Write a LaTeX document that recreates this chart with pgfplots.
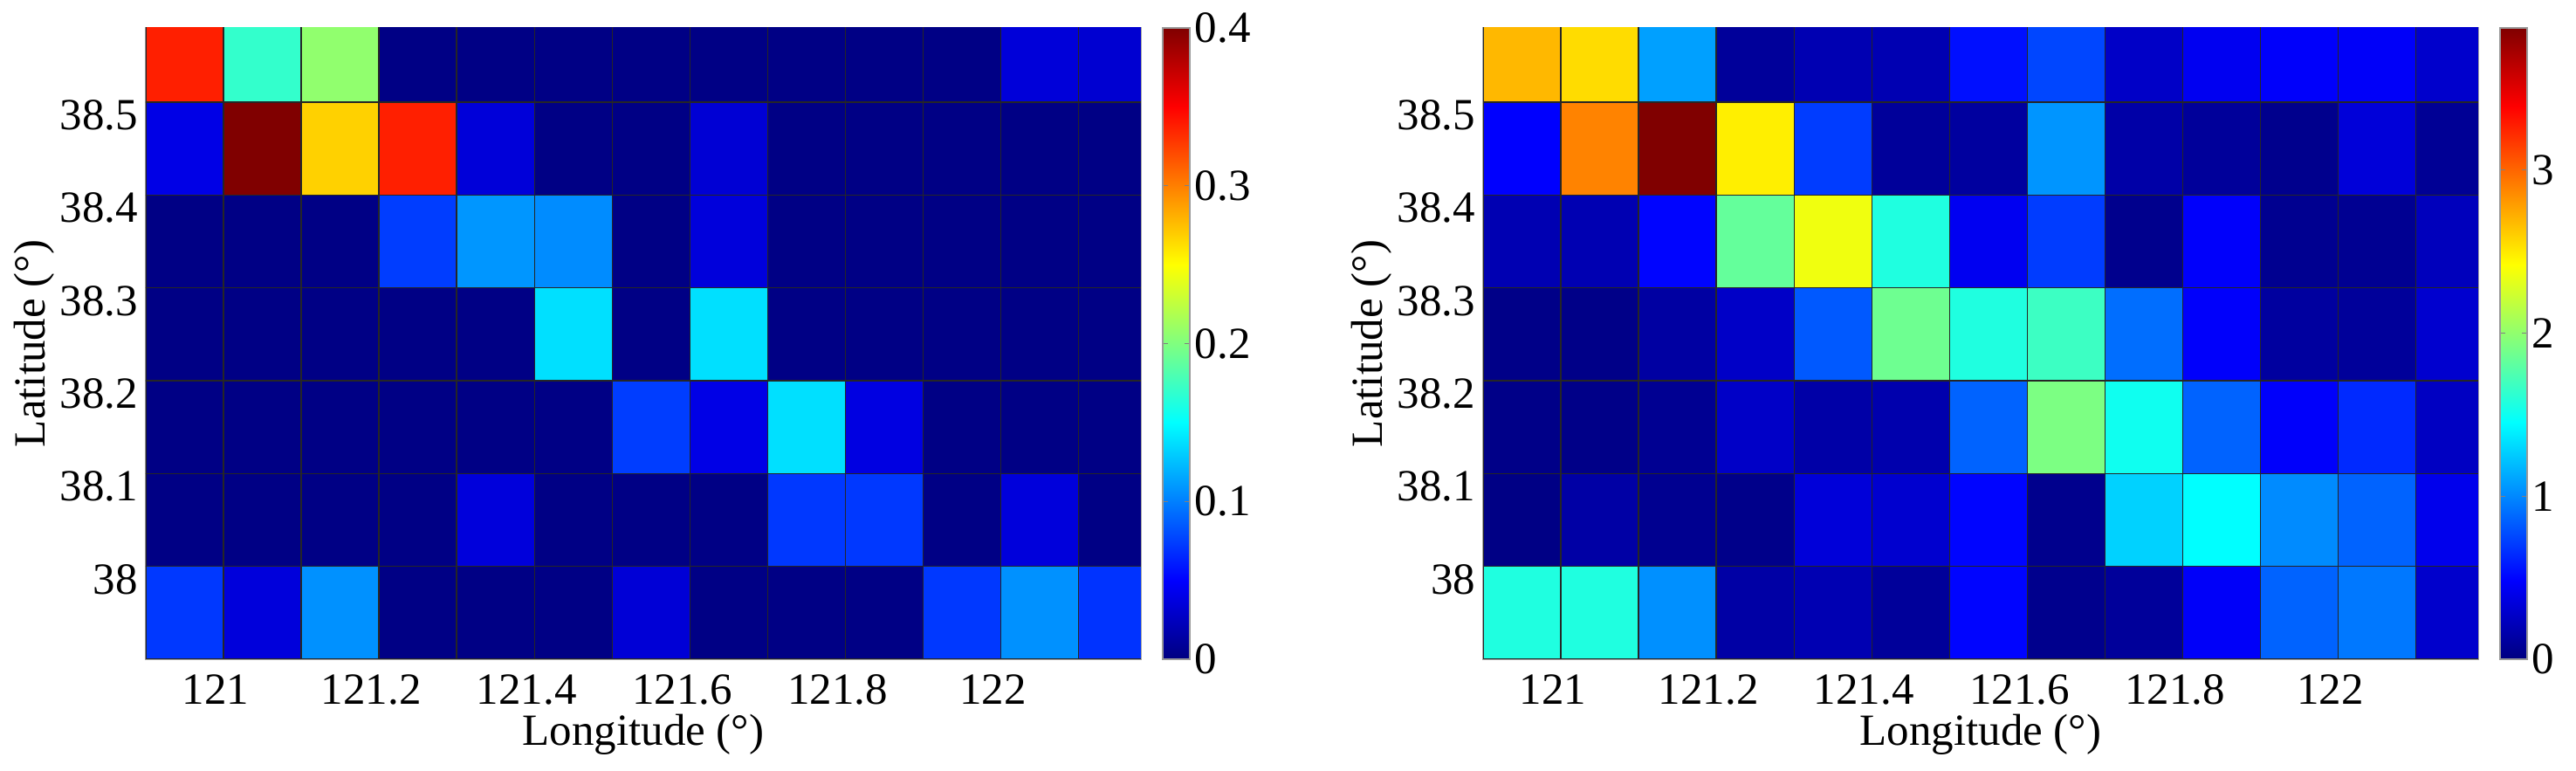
\documentclass[border=0pt]{standalone}
\usepackage{fontspec}
\setmainfont{Liberation Serif}
\usepackage{pgfplots}
\pgfplotsset{compat=1.18}

\pgfplotsset{
  heat/.style={
    scale only axis, width=228pt, height=144.6pt,
    xmin=120.9, xmax=122.18, ymin=37.9, ymax=38.58,
    xtick={121,121.2,121.4,121.6,121.8,122},
    ytick={38,38.1,38.2,38.3,38.4,38.5},
    major tick length=0pt,
    axis line style={black!35},
    font=\fontsize{10.2pt}{12pt}\selectfont,
    /pgf/number format/assume math mode=true,
    xlabel={Longitude (°)}, ylabel={Latitude (°)},
    xlabel style={at={(axis description cs:0.5,0)},anchor=north,inner sep=0pt,yshift=-12.4pt},
    ylabel style={at={(axis description cs:0,0.5)},anchor=south,inner sep=0pt,yshift=20.8pt},
    xticklabel style={xshift=-1.8pt},
    yticklabel style={inner sep=0pt,xshift=-1.6pt,yshift=-3pt},
    colormap/jet,
    colorbar,
    colorbar shift/.style={xshift=4.8pt},
  },
  cbar/.style={
    width=6.2pt,
    font=\fontsize{10.2pt}{12pt}\selectfont,
    /pgf/number format/assume math mode=true,
    axis line style={black!40},
    tick align=inside, major tick length=1.2pt,
    tick style={black!50},
    ytick pos=both, yticklabel pos=right,
    yticklabel style={inner sep=0pt,xshift=1pt},
  },
  % cell grid given by its corners; each cell takes the value at its lower-left corner
  gridcells/.style={surf, shader=flat corner, mesh/rows=8, mesh/cols=14,
    point meta=explicit, draw=black!85, line width=0.3pt},
}

\begin{document}
\begin{tikzpicture}
\begin{axis}[heat, point meta min=0, point meta max=0.4,
  colorbar style={cbar, ytick={0,0.1,0.2,0.3,0.4}}]
  \addplot[gridcells] coordinates {
(120.9,37.9)[0.072] (121.0,37.9)[0.036] (121.1,37.9)[0.107] (121.2,37.9)[0.002] (121.3,37.9)[0.002] (121.4,37.9)[0.002] (121.5,37.9)[0.034] (121.6,37.9)[0.002] (121.7,37.9)[0.002] (121.8,37.9)[0.002] (121.9,37.9)[0.072] (122.0,37.9)[0.107] (122.1,37.9)[0.070] (122.2,37.9)[0.070]
(120.9,38.0)[0.002] (121.0,38.0)[0.002] (121.1,38.0)[0.002] (121.2,38.0)[0.002] (121.3,38.0)[0.036] (121.4,38.0)[0.002] (121.5,38.0)[0.002] (121.6,38.0)[0.002] (121.7,38.0)[0.072] (121.8,38.0)[0.072] (121.9,38.0)[0.002] (122.0,38.0)[0.036] (122.1,38.0)[0.002] (122.2,38.0)[0.002]
(120.9,38.1)[0.002] (121.0,38.1)[0.002] (121.1,38.1)[0.002] (121.2,38.1)[0.002] (121.3,38.1)[0.002] (121.4,38.1)[0.002] (121.5,38.1)[0.074] (121.6,38.1)[0.040] (121.7,38.1)[0.138] (121.8,38.1)[0.038] (121.9,38.1)[0.002] (122.0,38.1)[0.002] (122.1,38.1)[0.002] (122.2,38.1)[0.002]
(120.9,38.2)[0.002] (121.0,38.2)[0.002] (121.1,38.2)[0.002] (121.2,38.2)[0.002] (121.3,38.2)[0.002] (121.4,38.2)[0.138] (121.5,38.2)[0.002] (121.6,38.2)[0.138] (121.7,38.2)[0.002] (121.8,38.2)[0.002] (121.9,38.2)[0.002] (122.0,38.2)[0.002] (122.1,38.2)[0.002] (122.2,38.2)[0.002]
(120.9,38.3)[0.002] (121.0,38.3)[0.002] (121.1,38.3)[0.002] (121.2,38.3)[0.074] (121.3,38.3)[0.109] (121.4,38.3)[0.105] (121.5,38.3)[0.002] (121.6,38.3)[0.036] (121.7,38.3)[0.002] (121.8,38.3)[0.002] (121.9,38.3)[0.002] (122.0,38.3)[0.002] (122.1,38.3)[0.002] (122.2,38.3)[0.002]
(120.9,38.4)[0.040] (121.0,38.4)[0.400] (121.1,38.4)[0.268] (121.2,38.4)[0.338] (121.3,38.4)[0.035] (121.4,38.4)[0.002] (121.5,38.4)[0.002] (121.6,38.4)[0.033] (121.7,38.4)[0.002] (121.8,38.4)[0.002] (121.9,38.4)[0.002] (122.0,38.4)[0.002] (122.1,38.4)[0.002] (122.2,38.4)[0.002]
(120.9,38.5)[0.338] (121.0,38.5)[0.170] (121.1,38.5)[0.207] (121.2,38.5)[0.002] (121.3,38.5)[0.002] (121.4,38.5)[0.002] (121.5,38.5)[0.002] (121.6,38.5)[0.002] (121.7,38.5)[0.002] (121.8,38.5)[0.002] (121.9,38.5)[0.002] (122.0,38.5)[0.035] (122.1,38.5)[0.032] (122.2,38.5)[0.032]
(120.9,38.6)[0.338] (121.0,38.6)[0.170] (121.1,38.6)[0.207] (121.2,38.6)[0.002] (121.3,38.6)[0.002] (121.4,38.6)[0.002] (121.5,38.6)[0.002] (121.6,38.6)[0.002] (121.7,38.6)[0.002] (121.8,38.6)[0.002] (121.9,38.6)[0.002] (122.0,38.6)[0.035] (122.1,38.6)[0.032] (122.2,38.6)[0.032]
  };
\end{axis}
\begin{axis}[heat, at={(306.4pt,0pt)}, point meta min=0, point meta max=3.87,
  colorbar style={cbar, ytick={0,1,2,3}}]
  \addplot[gridcells] coordinates {
(120.9,37.9)[1.57] (121.0,37.9)[1.57] (121.1,37.9)[1.03] (121.2,37.9)[0.14] (121.3,37.9)[0.19] (121.4,37.9)[0.10] (121.5,37.9)[0.50] (121.6,37.9)[0.05] (121.7,37.9)[0.10] (121.8,37.9)[0.46] (121.9,37.9)[0.86] (122.0,37.9)[0.94] (122.1,37.9)[0.29] (122.2,37.9)[0.29]
(120.9,38.0)[0.02] (121.0,38.0)[0.14] (121.1,38.0)[0.06] (121.2,38.0)[0.04] (121.3,38.0)[0.34] (121.4,38.0)[0.30] (121.5,38.0)[0.50] (121.6,38.0)[0.05] (121.7,38.0)[1.28] (121.8,38.0)[1.45] (121.9,38.0)[1.01] (122.0,38.0)[0.86] (122.1,38.0)[0.41] (122.2,38.0)[0.41]
(120.9,38.1)[0.03] (121.0,38.1)[0.03] (121.1,38.1)[0.07] (121.2,38.1)[0.27] (121.3,38.1)[0.15] (121.4,38.1)[0.17] (121.5,38.1)[0.86] (121.6,38.1)[1.92] (121.7,38.1)[1.51] (121.8,38.1)[0.86] (121.9,38.1)[0.47] (122.0,38.1)[0.64] (122.1,38.1)[0.25] (122.2,38.1)[0.25]
(120.9,38.2)[0.03] (121.0,38.2)[0.03] (121.1,38.2)[0.13] (121.2,38.2)[0.27] (121.3,38.2)[0.82] (121.4,38.2)[1.87] (121.5,38.2)[1.57] (121.6,38.2)[1.68] (121.7,38.2)[0.90] (121.8,38.2)[0.47] (121.9,38.2)[0.12] (122.0,38.2)[0.10] (122.1,38.2)[0.30] (122.2,38.2)[0.30]
(120.9,38.3)[0.19] (121.0,38.3)[0.19] (121.1,38.3)[0.50] (121.2,38.3)[1.83] (121.3,38.3)[2.36] (121.4,38.3)[1.57] (121.5,38.3)[0.43] (121.6,38.3)[0.71] (121.7,38.3)[0.05] (121.8,38.3)[0.47] (121.9,38.3)[0.06] (122.0,38.3)[0.07] (122.1,38.3)[0.23] (122.2,38.3)[0.23]
(120.9,38.4)[0.48] (121.0,38.4)[2.89] (121.1,38.4)[3.87] (121.2,38.4)[2.48] (121.3,38.4)[0.71] (121.4,38.4)[0.10] (121.5,38.4)[0.12] (121.6,38.4)[1.05] (121.7,38.4)[0.15] (121.8,38.4)[0.10] (121.9,38.4)[0.05] (122.0,38.4)[0.34] (122.1,38.4)[0.08] (122.2,38.4)[0.08]
(120.9,38.5)[2.69] (121.0,38.5)[2.55] (121.1,38.5)[1.09] (121.2,38.5)[0.10] (121.3,38.5)[0.19] (121.4,38.5)[0.19] (121.5,38.5)[0.54] (121.6,38.5)[0.75] (121.7,38.5)[0.27] (121.8,38.5)[0.43] (121.9,38.5)[0.47] (122.0,38.5)[0.46] (122.1,38.5)[0.29] (122.2,38.5)[0.29]
(120.9,38.6)[2.69] (121.0,38.6)[2.55] (121.1,38.6)[1.09] (121.2,38.6)[0.10] (121.3,38.6)[0.19] (121.4,38.6)[0.19] (121.5,38.6)[0.54] (121.6,38.6)[0.75] (121.7,38.6)[0.27] (121.8,38.6)[0.43] (121.9,38.6)[0.47] (122.0,38.6)[0.46] (122.1,38.6)[0.29] (122.2,38.6)[0.29]
  };
\end{axis}
\path (-33.4pt,-25.6pt) rectangle (556.8pt,151pt);
\end{tikzpicture}
\end{document}
